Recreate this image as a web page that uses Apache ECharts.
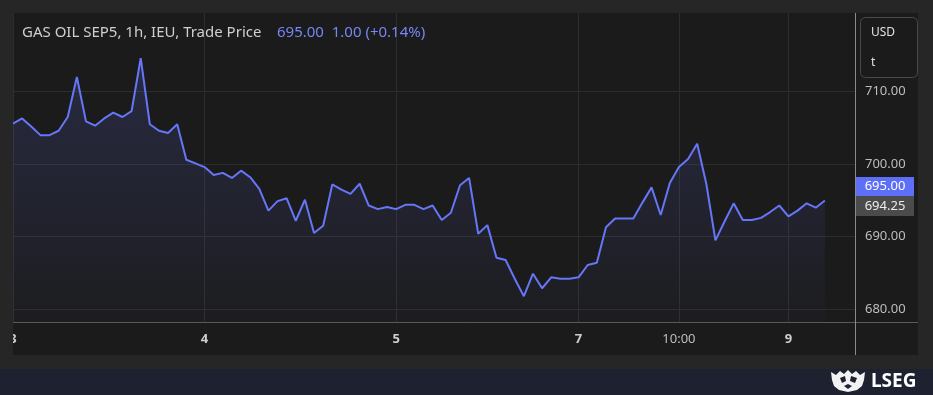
<!DOCTYPE html>
<html>
<head>
<meta charset="utf-8">
<script src="https://cdn.jsdelivr.net/npm/echarts@6/dist/echarts.min.js"></script>
<style>
html,body{margin:0;padding:0;background:#262626;}
#c{width:933px;height:395px;}
</style>
</head>
<body>
<div id="c"></div>
<script>
// ---- data (hourly trade prices, index = hour slot) ----
const prices = [
  705.6, 706.3, 705.2, 704.0, 704.0, 704.6, 706.5, 712.0, 705.9, 705.3,
  706.3, 707.1, 706.5, 707.3, 714.6, 705.5, 704.6, 704.3, 705.5, 700.6,
  700.1, 699.6, 698.5, 698.8, 698.1, 699.1, 698.2, 696.6, 693.6, 694.9,
  695.3, 692.2, 695.1, 690.5, 691.5, 697.2, 696.5, 695.9, 697.3, 694.3,
  693.8, 694.1, 693.8, 694.4, 694.4, 693.8, 694.3, 692.3, 693.3, 697.1,
  698.1, 690.4, 691.6, 687.1, 686.8, 684.2, 681.8, 684.9, 682.9, 684.4,
  684.2, 684.2, 684.4, 686.1, 686.4, 691.3, 692.5, 692.5, 692.5, 694.7,
  696.8, 693.0, 697.4, 699.6, 700.7, 702.8, 697.3, 689.5, 692.1, 694.6,
  692.3, 692.3, 692.6, 693.4, 694.3, 692.8, 693.6, 694.6, 694.0, 695.0
];
const xTickSlots  = [0, 21, 42, 62, 73, 85];
const xTickLabels = ['3', '4', '5', '7', '10:00', '9'];
const yTickValues = [680, 690, 700, 710];
const lastPrice = 695.00;
const refPrice = 694.25;
const titleMain = 'GAS OIL SEP5, 1h, IEU, Trade Price';
const titleQuote = '695.00  1.00 (+0.14%)';

const chart = echarts.init(document.getElementById('c'), null, {renderer: 'canvas'});
const FONT = '"Noto Sans", "DejaVu Sans", sans-serif';

const option = {
  backgroundColor: '#262626',
  animation: false,
  textStyle: {fontFamily: FONT},
  grid: {left: 13, right: 78, top: 13, bottom: 72, show: false},
  xAxis: {
    type: 'value',
    min: 0,
    max: 92.3,
    axisLine: {show: false},
    axisTick: {show: false, customValues: xTickSlots},
    splitLine: {show: true, lineStyle: {color: '#2d2d2d', width: 1}},
    axisLabel: {
      customValues: xTickSlots,
      margin: 10,
      color: '#c4c4c4',
      fontSize: 13,
      fontFamily: FONT,
      formatter: function (v) {
        const i = xTickSlots.indexOf(Math.round(v));
        const t = i >= 0 ? xTickLabels[i] : '';
        return t.indexOf(':') >= 0 ? '{n|' + t + '}' : '{b|' + t + '}';
      },
      rich: {
        b: {fontWeight: 'bold', fontSize: 13, color: '#cfcfcf', fontFamily: FONT},
        n: {fontSize: 13, color: '#bdbdbd', fontFamily: FONT}
      }
    }
  },
  yAxis: {
    type: 'value',
    position: 'right',
    min: 678.11,
    max: 720.83,
    axisLine: {show: false},
    axisTick: {show: false, customValues: yTickValues},
    splitLine: {show: true, lineStyle: {color: '#2d2d2d', width: 1}},
    axisLabel: {
      customValues: yTickValues,
      margin: 10,
      color: '#bdbdbd',
      fontSize: 13,
      fontFamily: FONT,
      formatter: v => v.toFixed(2)
    }
  },
  series: [{
    type: 'line',
    data: prices.map((v, i) => [i, v]),
    symbol: 'none',
    smooth: false,
    lineStyle: {color: '#6676f8', width: 2},
    itemStyle: {color: '#6676f8'},
    areaStyle: {
      color: new echarts.graphic.LinearGradient(0, 0, 0, 1, [
        {offset: 0, color: 'rgba(98,112,240,0.26)'},
        {offset: 1, color: 'rgba(98,112,240,0.03)'}
      ]),
      origin: 'start'
    },
    z: 3
  }],
  graphic: []
};
chart.setOption(option);

// overlay elements that depend on axis positions
const yRef = chart.convertToPixel({yAxisIndex: 0}, refPrice);
const grayTop = Math.round(yRef) - 10;
const blueTop = grayTop - 19;

const g = [
  // main panel background
  {type: 'rect', z: -100, silent: true, shape: {x: 13, y: 13, width: 905, height: 342}, style: {fill: '#1b1b1b'}},
  // footer
  {type: 'rect', z: -100, silent: true, shape: {x: 0, y: 369, width: 933, height: 26}, style: {fill: '#1e2230'}},
  // bottom separator of plot area
  {type: 'line', z: 5, silent: true, shape: {x1: 13, y1: 322.5, x2: 918, y2: 322.5}, style: {stroke: '#5a5a5a', lineWidth: 1}},
  // right separator of plot area
  {type: 'line', z: 5, silent: true, shape: {x1: 855.5, y1: 13, x2: 855.5, y2: 355}, style: {stroke: '#8a8a8a', lineWidth: 1}},
  // cover for clipped first label
  {type: 'rect', z: 50, silent: true, shape: {x: 0, y: 324, width: 13, height: 32}, style: {fill: '#262626'}},
  // title
  {type: 'text', z: 20, x: 22, y: 33, style: {text: titleMain, fill: '#cfcfcf', font: '15px ' + FONT, verticalAlign: 'middle'}},
  {type: 'text', z: 20, x: 277, y: 33, style: {text: titleQuote, fill: '#7686f5', font: '15px ' + FONT, verticalAlign: 'middle'}},
  // currency / unit box
  {type: 'rect', z: 20, shape: {x: 860.5, y: 17.5, width: 57, height: 60, r: 5}, style: {fill: '#1b1b1b', stroke: '#4a4a4a', lineWidth: 1}},
  {type: 'text', z: 21, x: 871, y: 33, style: {text: 'USD', fill: '#e0e0e0', font: '12px ' + FONT, verticalAlign: 'middle'}},
  {type: 'text', z: 21, x: 871, y: 63, style: {text: 't', fill: '#e0e0e0', font: '12px ' + FONT, verticalAlign: 'middle'}},
  // price badges
  {type: 'rect', z: 30, shape: {x: 856, y: blueTop, width: 58, height: 19}, style: {fill: '#5d6ff7'}},
  {type: 'text', z: 31, x: 885, y: blueTop + 9.5, style: {text: lastPrice.toFixed(2), fill: '#ffffff', font: '13px ' + FONT, align: 'center', verticalAlign: 'middle'}},
  {type: 'rect', z: 30, shape: {x: 856, y: grayTop, width: 58, height: 20}, style: {fill: '#4b4b4b'}},
  {type: 'text', z: 31, x: 885, y: grayTop + 10, style: {text: refPrice.toFixed(2), fill: '#ececec', font: '13px ' + FONT, align: 'center', verticalAlign: 'middle'}},
  // LSEG logo
  {type: 'polygon', z: 40, shape: {points: [[831,372],[836,375],[840,371],[844,374],[848,370],[852,374],[856,371],[860,375],[865,372],[864,380],[862,386],[857,390],[848,392],[839,390],[834,386],[832,380]]}, style: {fill: '#f2f2f2'}},
  {type: 'polygon', z: 41, shape: {points: [[840,378],[845,376],[846,381],[842,383]]}, style: {fill: '#1e2230'}},
  {type: 'polygon', z: 41, shape: {points: [[851,376],[857,378],[855,383],[850,381]]}, style: {fill: '#1e2230'}},
  {type: 'polygon', z: 41, shape: {points: [[844,386],[848,384],[852,386],[848,389]]}, style: {fill: '#1e2230'}},
  {type: 'text', z: 40, x: 871, y: 381.5, style: {text: 'LSEG', fill: '#ffffff', font: 'bold 19px ' + FONT, verticalAlign: 'middle'}}
];
chart.setOption({graphic: g});
</script>
</body>
</html>
